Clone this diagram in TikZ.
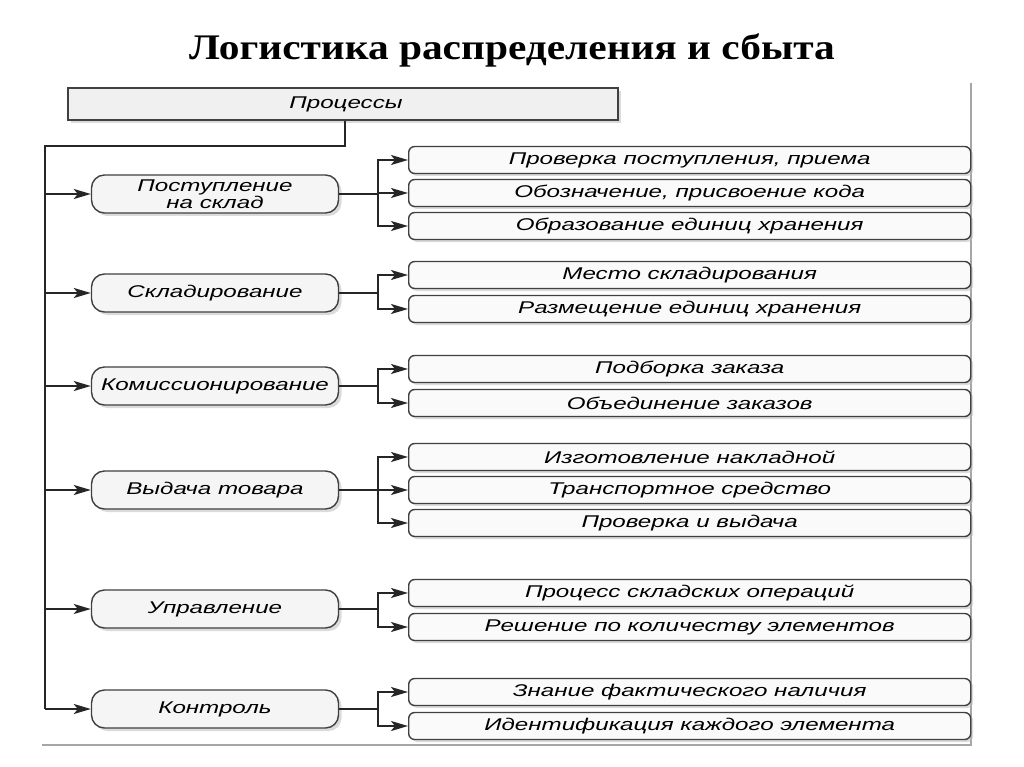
\documentclass[tikz,border=0pt]{standalone}
\usepackage{fontspec}
\setmainfont{Liberation Serif}
\newfontfamily\titlefont{Liberation Serif}[FakeStretch=1.15]
\newfontfamily\diag{Liberation Sans}[FakeStretch=1.42]
\usetikzlibrary{arrows.meta,shadows}
\begin{document}
\begin{tikzpicture}[x=1pt,y=-1pt,
  line/.style={draw=black!85,line width=2pt},
  arr/.style={line,-{Stealth[length=17pt,width=10pt,inset=4pt]}},
  proc/.style={draw=black!75,line width=1.4pt,fill=gray!12,minimum width=550pt,minimum height=32pt,
     inner sep=0pt,drop shadow={shadow xshift=3pt,shadow yshift=-3pt,fill=gray!55},
     font=\diag\itshape\fontsize{17}{18}\selectfont},
  lnode/.style={draw=black!75,line width=1.4pt,fill=gray!8,rounded corners=13pt,minimum width=247pt,
     minimum height=38pt,inner sep=0pt,align=center,drop shadow={shadow xshift=3pt,shadow yshift=-3pt,fill=gray!55},
     font=\diag\itshape\fontsize{17}{16.5}\selectfont},
  rnode/.style={draw=black!75,line width=1.4pt,fill=gray!4,rounded corners=6pt,minimum width=562pt,
     minimum height=27pt,inner sep=0pt,anchor=west,drop shadow={shadow xshift=2.5pt,shadow yshift=-2.5pt,fill=gray!55},
     font=\diag\itshape\fontsize{17}{18}\selectfont},
  frame/.style={draw=gray!70,line width=1.5pt}]
\useasboundingbox (0,0) rectangle (1024,767);
\fill[white] (0,0) rectangle (1024,767);
% title
\node[font=\titlefont\bfseries\fontsize{36}{40}\selectfont] (title) at (512,50) {Логистика распределения и сбыта};
% frame
\coordinate (fr1) at (971,83);
\coordinate (fr2) at (971,745);
\coordinate (fr3) at (42,745);
\draw[frame] (fr1) -- (fr2) -- (fr3);
% top box
\node[proc] (proc) at (343,104) {\hspace*{6pt}Процессы};
% left nodes
\node[lnode] (n1) at (215,194) {Поступление\\на склад};
\node[lnode] (n2) at (215,293) {Складирование};
\node[lnode] (n3) at (215,386) {Комиссионирование};
\node[lnode] (n4) at (215,490) {Выдача товара};
\node[lnode] (n5) at (215,609) {Управление};
\node[lnode] (n6) at (215,709) {Контроль};
% right nodes
\node[rnode] (c11) at (408,160) {Проверка поступления, приема};
\node[rnode] (c12) at (408,193) {Обозначение, присвоение кода};
\node[rnode] (c13) at (408,226) {Образование единиц хранения};
\node[rnode] (c21) at (408,275) {Место складирования};
\node[rnode] (c22) at (408,309) {Размещение единиц хранения};
\node[rnode] (c31) at (408,369) {Подборка заказа};
\node[rnode] (c32) at (408,403) {Объединение заказов};
\node[rnode] (c41) at (408,457) {Изготовление накладной};
\node[rnode] (c42) at (408,490) {Транспортное средство};
\node[rnode] (c43) at (408,523) {Проверка и выдача};
\node[rnode] (c51) at (408,593) {Процесс складских операций};
\node[rnode] (c52) at (408,627) {Решение по количеству элементов};
\node[rnode] (c61) at (408,692) {Знание фактического наличия};
\node[rnode] (c62) at (408,726) {Идентификация каждого элемента};
% trunk
\coordinate (tt) at (45,146);
\coordinate (bus) at (378,0);
\draw[line] (proc.south -| 345,0) |- (tt) -- (tt |- n6.west);
\foreach \n in {n1,n2,n3,n4,n5,n6}{\draw[arr] (tt |- \n.west) -- (\n.west);}
% branches
\foreach \n/\cs in {n1/{c11,c12,c13},n2/{c21,c22},n3/{c31,c32},n4/{c41,c42,c43},n5/{c51,c52},n6/{c61,c62}}{
  \foreach \c in \cs {\draw[arr] (\n.east) -- (bus |- \n.east) |- (\c.west);}
}
\end{tikzpicture}
\end{document}
